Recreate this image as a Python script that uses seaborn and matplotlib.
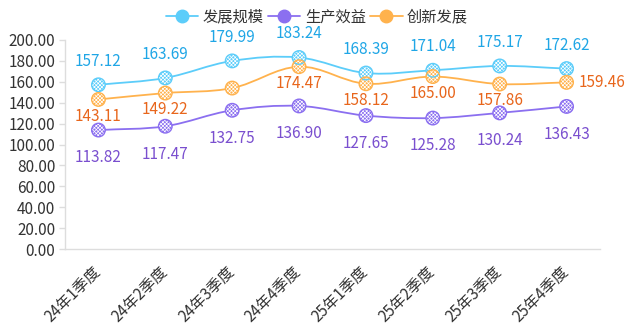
import matplotlib
matplotlib.use("Agg")
import matplotlib.pyplot as plt
import matplotlib.transforms as mtransforms
from matplotlib.lines import Line2D
from matplotlib.path import Path
from matplotlib.patches import PathPatch
import numpy as np
import seaborn as sns
import pandas as pd

quarters = ["24年1季度", "24年2季度", "24年3季度", "24年4季度",
            "25年1季度", "25年2季度", "25年3季度", "25年4季度"]
scale = [157.12, 163.69, 179.99, 183.24, 168.39, 171.04, 175.17, 172.62]
benefit = [113.82, 117.47, 132.75, 136.90, 127.65, 125.28, 130.24, 136.43]
innovation = [143.11, 149.22, 154.00, 174.47, 158.12, 165.00, 157.86, 159.46]
series_names = ["发展规模", "生产效益", "创新发展"]
y_ticks = [0, 20, 40, 60, 80, 100, 120, 140, 160, 180, 200]

sns.set_theme(style="white")
plt.rcParams["font.family"] = ["Noto Sans CJK SC", "DejaVu Sans"]
plt.rcParams["hatch.linewidth"] = 0.5

line_colors = ["#5ccdfa", "#8b6ff0", "#ffb24d"]
label_colors = ["#1fa6e6", "#7a4fcf", "#e8661c"]
FS = 11

df = pd.DataFrame({
    "quarter": quarters * 3,
    "pos": list(range(len(quarters))) * 3,
    "value": scale + benefit + innovation,
    "series": [s for s in series_names for _ in quarters],
})

fig = plt.figure(figsize=(6.34, 3.33), dpi=100)
ax = fig.add_axes([65 / 634, 84 / 333, 535 / 634, 209 / 333])
ax.set_xlim(-0.5, len(quarters) - 0.5)
ax.set_ylim(0, 200)


def smooth_path(xs, ys, smooth=0.35):
    """Cubic Bezier path through the points (display space), tangents from neighbours."""
    pts = ax.transData.transform(np.column_stack([xs, ys]).astype(float))
    n = len(pts)
    verts = [pts[0]]
    codes = [Path.MOVETO]
    for i in range(n - 1):
        p0 = pts[max(i - 1, 0)]
        p1, p2 = pts[i], pts[i + 1]
        p3 = pts[min(i + 2, n - 1)]
        d_a0 = np.linalg.norm(p1 - p0)
        d_a1 = np.linalg.norm(p2 - p1)
        w_a = d_a1 / (d_a0 + d_a1) if (d_a0 + d_a1) else 0
        c1 = p1 + (p2 - p0) * smooth * w_a
        d_b0 = np.linalg.norm(p2 - p1)
        d_b1 = np.linalg.norm(p3 - p2)
        w_b = d_b0 / (d_b0 + d_b1) if (d_b0 + d_b1) else 0
        c2 = p2 - (p3 - p1) * smooth * w_b
        verts += [c1, c2, p2]
        codes += [Path.CURVE4] * 3
    return Path(verts, codes)


for name, color in zip(series_names, line_colors):
    sub = df[df["series"] == name]
    ax.add_patch(PathPatch(smooth_path(sub["pos"].values, sub["value"].values),
                           facecolor="none", edgecolor=color, linewidth=1.3,
                           transform=mtransforms.IdentityTransform(), zorder=2))

sns.scatterplot(data=df, x="pos", y="value", hue="series", palette=line_colors,
                hue_order=series_names, s=95, edgecolor="white", hatch="xxxxxxxxx",
                linewidth=0, legend=False, ax=ax, zorder=3)
for name, color in zip(series_names, line_colors):
    sub = df[df["series"] == name]
    ax.scatter(sub["pos"], sub["value"], s=95, facecolor="none", edgecolor=color,
               linewidth=1.0, zorder=4)

# value labels: first series above, others below, last orange one to the right;
# the 24Q3 orange label is left out where it would collide with the purple one
for name, lc in zip(series_names, label_colors):
    sub = df[df["series"] == name].reset_index(drop=True)
    for i, row in sub.iterrows():
        txt = f"{row['value']:.2f}"
        pt = (row["pos"], row["value"])
        if name == "发展规模":
            ax.annotate(txt, pt, xytext=(0, 17), textcoords="offset points",
                        ha="center", va="center", color=lc, fontsize=FS, zorder=5)
        elif name == "生产效益":
            ax.annotate(txt, pt, xytext=(0, -20), textcoords="offset points",
                        ha="center", va="center", color=lc, fontsize=FS, zorder=5)
        else:
            if i == 2:
                continue
            if i == len(sub) - 1:
                ax.annotate(txt, pt, xytext=(9, 0), textcoords="offset points",
                            ha="left", va="center", color=lc, fontsize=FS, zorder=5)
            else:
                ax.annotate(txt, pt, xytext=(0, -12), textcoords="offset points",
                            ha="center", va="center", color=lc, fontsize=FS, zorder=5)

ax.set_yticks(y_ticks)
ax.set_yticklabels([f"{v:.2f}" for v in y_ticks], fontsize=FS, color="#333333")
ax.set_xticks(range(len(quarters)))
ax.set_xticklabels(quarters, rotation=45, ha="right", va="center",
                   rotation_mode="anchor", fontsize=FS, color="#333333")
shift = mtransforms.ScaledTranslation(-10 / 100, 2 / 100, fig.dpi_scale_trans)
for lbl in ax.get_xticklabels():
    lbl.set_transform(lbl.get_transform() + shift)
ax.set_xlabel("")
ax.set_ylabel("")

for side in ["top", "right"]:
    ax.spines[side].set_visible(False)
for side in ["left", "bottom"]:
    ax.spines[side].set_color("#dddddd")
    ax.spines[side].set_linewidth(1.0)
ax.tick_params(axis="y", which="major", left=True, length=4, width=1,
               color="#dddddd", pad=3)
ax.tick_params(axis="x", which="major", bottom=False, pad=9)
ax.grid(False)

handles = [Line2D([0], [0], color=c, linewidth=1.3, marker="o", markersize=9,
                  markerfacecolor=c, markeredgecolor=c)
           for c in line_colors]
fig.legend(handles, series_names, loc="center", bbox_to_anchor=(0.5, 1 - 17 / 333),
           ncol=3, frameon=False, fontsize=11, handlelength=2.1,
           columnspacing=0.3, handletextpad=0.3, labelcolor="#333333")

fig.savefig("out.png", dpi=100)
